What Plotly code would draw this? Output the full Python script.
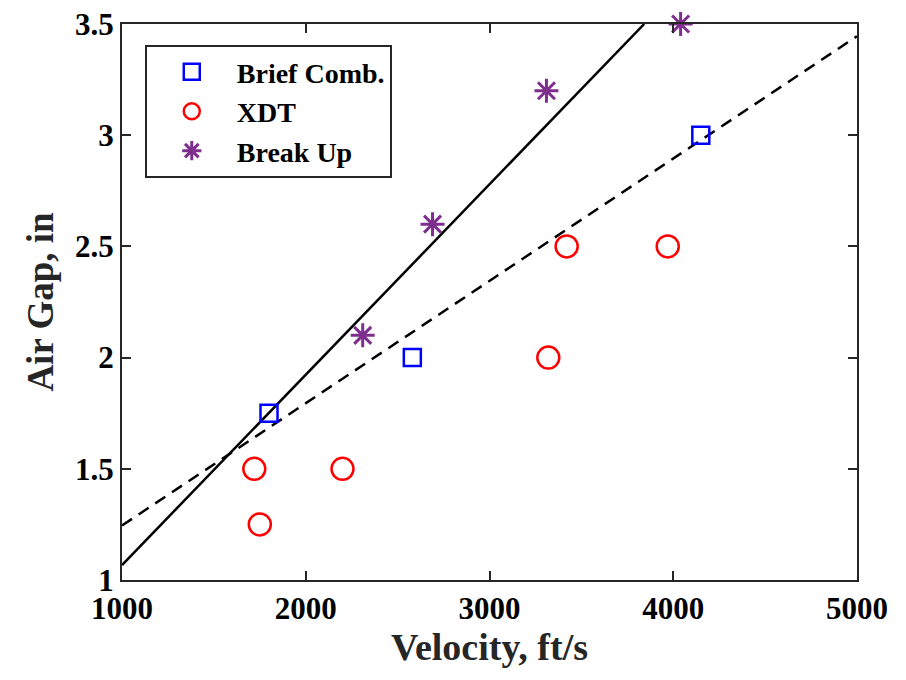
import plotly.graph_objects as go

# ---- data ----
brief_x = [1800, 2580, 4150]
brief_y = [1.75, 2.0, 3.0]

xdt_x = [1720, 1750, 2200, 3320, 3420, 3970]
xdt_y = [1.5, 1.25, 1.5, 2.0, 2.5, 2.5]

break_x = [2310, 2690, 3310, 4040]
break_y = [2.1, 2.6, 3.2, 3.5]

fit_solid_x = [1000, 3842]
fit_solid_y = [1.067, 3.5]

fit_dash_x = [1000, 5000]
fit_dash_y = [1.245, 3.445]

x_ticks = [1000, 2000, 3000, 4000, 5000]
y_ticks = [1, 1.5, 2, 2.5, 3, 3.5]
y_tick_text = ["1", "1.5", "2", "2.5", "3", "3.5"]

FONT = "Liberation Serif"
AX = "#262626"

fig = go.Figure()

fig.add_trace(go.Scatter(x=fit_solid_x, y=fit_solid_y, mode="lines",
                         line=dict(color="black", width=2.5), showlegend=False))
fig.add_trace(go.Scatter(x=fit_dash_x, y=fit_dash_y, mode="lines",
                         line=dict(color="black", width=2.5, dash="12px,8px"),
                         showlegend=False))

fig.add_trace(go.Scatter(x=brief_x, y=brief_y, mode="markers", name="<b>Brief Comb.</b>",
                         marker=dict(symbol="square-open", size=17, color="#0000FF",
                                     line=dict(width=2.5, color="#0000FF")),
                         cliponaxis=False))
fig.add_trace(go.Scatter(x=xdt_x, y=xdt_y, mode="markers", name="<b>XDT</b>",
                         marker=dict(symbol="circle-open", size=22, color="#FF0000",
                                     line=dict(width=2.5, color="#FF0000")),
                         cliponaxis=False))
fig.add_trace(go.Scatter(x=break_x, y=break_y, mode="markers", name="<b>Break Up</b>",
                         marker=dict(symbol="asterisk-open", size=20, color="#7E2F8E",
                                     line=dict(width=3, color="#7E2F8E")),
                         cliponaxis=False))

fig.update_layout(
    width=906, height=680,
    margin=dict(l=114, r=57, t=16, b=108, autoexpand=False),
    paper_bgcolor="white", plot_bgcolor="white",
    font=dict(family=FONT, color="black"),
    showlegend=True,
    legend=dict(
        x=0.031, y=0.962, xanchor="left", yanchor="top",
        bgcolor="white", bordercolor=AX, borderwidth=2,
        font=dict(family=FONT, size=28, color="black"),
        itemwidth=80, tracegroupgap=0,
    ),
    xaxis=dict(
        range=[1000, 5000], tickvals=x_ticks, ticktext=["<b>%s</b>" % v for v in x_ticks],
        showgrid=False, zeroline=False, automargin=False, ticklabeloverflow="allow",
        showline=True, linecolor=AX, linewidth=2, mirror="ticks",
        ticks="inside", ticklen=9, tickwidth=2, tickcolor=AX,
        tickfont=dict(family=FONT, size=31, color="black"),
        title=dict(text="<b>Velocity, ft/s</b>", font=dict(family=FONT, size=38, color="#262626"),
                   standoff=0),
    ),
    yaxis=dict(
        range=[1, 3.5], tickvals=y_ticks, ticktext=["<b>%s</b>" % t for t in y_tick_text],
        showgrid=False, zeroline=False, automargin=False, ticklabeloverflow="allow",
        showline=True, linecolor=AX, linewidth=2, mirror="ticks",
        ticks="inside", ticklen=9, tickwidth=2, tickcolor=AX,
        tickfont=dict(family=FONT, size=31, color="black"),
        title=dict(text="<b>Air Gap, in</b>", font=dict(family=FONT, size=37, color="#262626"),
                   standoff=10),
    ),
)

fig.write_html("out.html")
